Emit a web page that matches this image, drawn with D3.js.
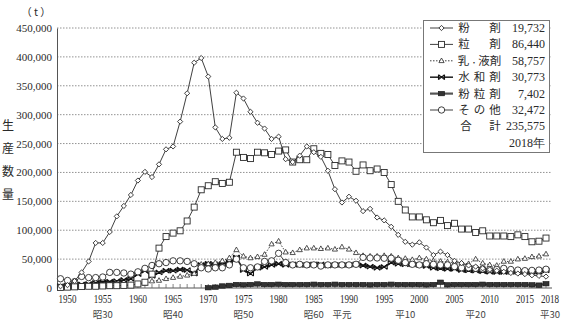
<!DOCTYPE html>
<html>
<head>
<meta charset="utf-8">
<script src="https://cdn.jsdelivr.net/npm/d3@7"></script>
<style>
  html, body { margin: 0; padding: 0; background: #fff; }
  svg { display: block; }
  .serif { font-family: "Liberation Serif", "DejaVu Serif", serif; }
  .cjk { font-family: "Noto Sans CJK JP", sans-serif; }
</style>
</head>
<body>
<svg id="chart" width="568" height="332"></svg>
<script>
// Years covered by the series
const years = d3.range(1949, 2019);

// Production quantity (t) per formulation type, 1949–2018
const konazai = [3000, 5000, 12000, 27000, 46000, 78000, 78000, 97000, 124000, 142000,
  161000, 186000, 201000, 192000, 214000, 240000, 245000, 288000, 337000, 390000,
  398000, 366000, 278000, 258000, 260000, 338000, 328000, 305000, 286000, 276000,
  258000, 262000, 223000, 218000, 229000, 245000, 235000, 227000, 203000, 171000,
  148000, 158000, 151000, 133000, 137000, 122000, 117000, 106000, 92000, 80000,
  75000, 79000, 70000, 57000, 63000, 57000, 47000, 43000, 39000, 37000,
  34000, 32000, 30000, 28000, 26000, 25000, 24000, 22000, 21000, 19732];

const ryuzai = [1000, 1500, 2000, 2500, 3000, 3000, 3500, 4000, 4000, 4500,
  5000, 7000, 10000, 24000, 69000, 89000, 95000, 99000, 116000, 140000,
  170000, 177000, 184000, 181000, 183000, 235000, 226000, 224000, 235000, 234000,
  231000, 237000, 239000, 218000, 222000, 222000, 241000, 233000, 231000, 212000,
  220000, 218000, 202000, 213000, 203000, 206000, 200000, 179000, 150000, 135000,
  123000, 123000, 118000, 113000, 117000, 108000, 112000, 102000, 102000, 96000,
  99000, 90000, 90000, 90000, 89000, 92000, 89000, 80000, 81000, 86440];

const nyuEkizai = [1000, 1500, 2000, 2500, 3000, 3000, 3500, 4000, 4000, 5000,
  5000, 6000, 8000, 12000, 13000, 16000, 18000, 20000, 22000, 25000,
  41000, 42000, 44000, 47000, 52000, 66000, 55000, 52000, 54000, 58000,
  76000, 81000, 62000, 61000, 66000, 69000, 69000, 68000, 69000, 67000,
  71000, 67000, 61000, 56000, 55000, 55000, 56000, 55000, 52000, 51000,
  49000, 52000, 50000, 47000, 46000, 45000, 44000, 43000, 42000, 50000,
  43000, 40000, 39000, 46000, 46000, 50000, 51000, 54000, 55000, 58757];

const suiwazai = [3000, 4000, 5000, 6000, 7000, 9000, 10000, 11000, 12000, 14000,
  16000, 24000, 30000, 21000, 27000, 30000, 30000, 32000, 31000, 25000,
  40000, 42000, 40000, 41000, 44000, 53000, 31000, 25000, 35000, 36500,
  40000, 42000, 40000, 41000, 40000, 40000, 41000, 41000, 39000, 40000,
  40000, 40000, 41000, 39000, 37000, 35000, 36500, 44000, 42000, 41000,
  41000, 40000, 38000, 35000, 34000, 33000, 33000, 31000, 30500, 30000,
  29000, 28000, 27500, 27500, 28000, 28000, 28000, 28000, 28000, 30773];

const funryuzai = [null, null, null, null, null, null, null, null, null, null,
  null, null, null, null, null, null, null, null, null, null,
  null, 500, 1500, 3500, 4500, 6000, 5500, 6000, 7000, 6000,
  6000, 6500, 6000, 6000, 6000, 6000, 6500, 6000, 6000, 6500,
  6000, 6000, 6000, 6000, 5500, 6000, 6000, 6500, 6000, 6000,
  6000, 6000, 5500, 6000, 10000, 5500, 6000, 6000, 6000, 6000,
  6500, 6000, 6000, 6000, 6000, 6000, 6000, 5500, 5000, 7402];

const sonota = [16000, 13000, 11000, 20000, 18000, 18000, 19000, 27000, 27000, 26000,
  24000, 28000, 34000, 39000, 42000, 44000, 47000, 47000, 46000, 42000,
  35000, 33000, 35000, 35000, 40000, 50000, 35000, 35000, 36500, 46000,
  47000, 60000, 44000, 40000, 41000, 40000, 40000, 38000, 40000, 40000,
  40000, 40000, 41000, 53000, 52000, 52000, 51500, 51500, 48000, 44000,
  41000, 40000, 42000, 41000, 40000, 40000, 37000, 35000, 35000, 34000,
  33000, 32000, 32000, 34000, 32000, 31000, 30000, 30500, 31000, 32472];

// Legend labels: each glyph with its horizontal position inside the name column
const seriesNames = [
  [["粉", 464], ["剤", 495]],
  [["粒", 464], ["剤", 495]],
  [["乳", 463.5], ["・", 474], ["液", 484], ["剤", 495.5]],
  [["水", 464], ["和", 479.5], ["剤", 495]],
  [["粉", 464], ["粒", 479.5], ["剤", 495]],
  [["そ", 464], ["の", 479.5], ["他", 495]]
];
const legendValues = ["19,732", "86,440", "58,757", "30,773", "7,402", "32,472"];
const totalLabel = [["合", 466], ["計", 495]];
const totalValue = "235,575";
const legendYear = "2018年";

// Axis labels
const yTicks = d3.range(0, 450001, 50000);
const xTickYears = [1950, 1955, 1960, 1965, 1970, 1975, 1980, 1985, 1990, 1995, 2000, 2005, 2010, 2015, 2018];
const eraLabels = [[1955, "昭30"], [1965, "昭40"], [1975, "昭50"], [1985, "昭60"],
  [1989, "平元"], [1998, "平10"], [2008, "平20"], [2018, "平30"]];
const yUnit = "（ t ）";
const yTitle = ["生", "産", "数", "量"];

const svg = d3.select("#chart");
const ink = "#2a2a2a";

const x = d3.scaleLinear().domain([1949, 2018]).range([60.5, 546]);
const y = d3.scaleLinear().domain([0, 450000]).range([288, 28]);
const plotLeft = 57, plotRight = 552;

// Dotted horizontal gridlines
svg.append("g").selectAll("line").data(yTicks.filter(d => d > 0)).join("line")
  .attr("x1", plotLeft).attr("x2", plotRight)
  .attr("y1", d => y(d)).attr("y2", d => y(d))
  .attr("stroke", "#777").attr("stroke-width", 0.8).attr("stroke-dasharray", "1.5,1.5");

// Y axis with comma-formatted values
const yAxis = d3.axisLeft(y).tickValues(yTicks).tickSize(0).tickPadding(5)
  .tickFormat(d3.format(","));
const gy = svg.append("g").attr("transform", `translate(${plotLeft},0)`).call(yAxis);
gy.select(".domain").attr("stroke", "#555").attr("stroke-width", 1);
gy.selectAll("text").attr("font-size", 11).attr("fill", ink)
  .attr("font-family", "Liberation Serif, serif");

// X axis: baseline with small inward yearly ticks
svg.append("line").attr("x1", plotLeft).attr("x2", plotRight)
  .attr("y1", y(0)).attr("y2", y(0)).attr("stroke", "#555").attr("stroke-width", 1);
svg.append("g").selectAll("line").data(years).join("line")
  .attr("x1", d => x(d)).attr("x2", d => x(d))
  .attr("y1", y(0)).attr("y2", y(0) - 4).attr("stroke", "#666").attr("stroke-width", 0.8);

svg.append("g").selectAll("text").data(xTickYears).join("text")
  .attr("class", "serif").attr("x", d => x(d) + (d === 2018 ? 4 : 0)).attr("y", 302.5)
  .attr("text-anchor", "middle").attr("font-size", 12).attr("fill", ink)
  .attr("textLength", 18).attr("lengthAdjust", "spacingAndGlyphs")
  .text(d => d);

svg.append("g").selectAll("text").data(eraLabels).join("text")
  .attr("class", "cjk").attr("x", d => x(d[0]) + (d[0] === 2018 ? 4 : 0)).attr("y", 318)
  .attr("text-anchor", "middle").attr("font-size", 9.5).attr("fill", "#444")
  .text(d => d[1]);

// Unit and vertical title
svg.append("text").attr("class", "cjk").attr("x", 36).attr("y", 16)
  .attr("text-anchor", "middle").attr("font-size", 10.5).attr("fill", ink).text(yUnit);
svg.append("g").selectAll("text").data(yTitle).join("text")
  .attr("class", "cjk").attr("x", 8).attr("y", (d, i) => 130 + i * 23)
  .attr("text-anchor", "middle").attr("font-size", 12).attr("fill", ink).text(d => d);

// Marker drawers
const markers = {
  diamond: (g, cx, cy) => g.append("path")
    .attr("d", `M${cx},${cy - 2.6}L${cx + 2.6},${cy}L${cx},${cy + 2.6}L${cx - 2.6},${cy}Z`)
    .attr("fill", "#fff").attr("stroke", ink).attr("stroke-width", 0.9),
  square: (g, cx, cy) => g.append("rect")
    .attr("x", cx - 3).attr("y", cy - 3).attr("width", 6).attr("height", 6)
    .attr("fill", "#fff").attr("stroke", ink).attr("stroke-width", 0.9),
  triangle: (g, cx, cy) => g.append("path")
    .attr("d", `M${cx},${cy - 2.8}L${cx + 2.6},${cy + 1.8}L${cx - 2.6},${cy + 1.8}Z`)
    .attr("fill", "#fff").attr("stroke", ink).attr("stroke-width", 0.8),
  cross: (g, cx, cy) => g.append("path")
    .attr("d", `M${cx - 3},${cy - 2.5}L${cx + 3},${cy + 2.5}M${cx - 3},${cy + 2.5}L${cx + 3},${cy - 2.5}M${cx - 3},${cy - 2.5}L${cx - 3},${cy + 2.5}M${cx + 3},${cy - 2.5}L${cx + 3},${cy + 2.5}`)
    .attr("fill", "none").attr("stroke", "#111").attr("stroke-width", 1.1),
  boxfill: (g, cx, cy) => g.append("rect")
    .attr("x", cx - 3).attr("y", cy - 2.2).attr("width", 6).attr("height", 4.4)
    .attr("fill", "#333").attr("stroke", "#111").attr("stroke-width", 0.6),
  circle: (g, cx, cy) => g.append("circle")
    .attr("cx", cx).attr("cy", cy).attr("r", 3.2)
    .attr("fill", "#fff").attr("stroke", ink).attr("stroke-width", 0.9)
};

const series = [
  { values: konazai, marker: "diamond", width: 0.9, dash: null },
  { values: ryuzai, marker: "square", width: 0.9, dash: null },
  { values: nyuEkizai, marker: "triangle", width: 0.9, dash: "1.5,1.5" },
  { values: suiwazai, marker: "cross", width: 1.6, dash: null },
  { values: funryuzai, marker: "boxfill", width: 2.2, dash: null },
  { values: sonota, marker: "circle", width: 0.9, dash: null }
];

const line = d3.line().defined(d => d.v != null).x(d => x(d.yr)).y(d => y(d.v));

// Draw order: background series first, the tall dust series on top
const drawOrder = [4, 3, 2, 5, 1, 0];
drawOrder.forEach(i => {
  const s = series[i];
  const pts = years.map((yr, k) => ({ yr, v: s.values[k] }));
  const g = svg.append("g");
  g.append("path").datum(pts).attr("d", line)
    .attr("fill", "none").attr("stroke", i === 4 ? "#555" : ink)
    .attr("stroke-width", s.width)
    .attr("stroke-dasharray", s.dash);
  pts.filter(p => p.v != null).forEach(p => markers[s.marker](g, x(p.yr), y(p.v)));
});

// Legend
const lg = svg.append("g");
lg.append("rect").attr("x", 423.5).attr("y", 20.5).attr("width", 126).attr("height", 132)
  .attr("fill", "#fff").attr("stroke", "#777").attr("stroke-width", 1);
const rowY = i => 32 + i * 16.4;
const addGlyphs = (glyphs, row) => glyphs.forEach(([ch, gx]) => {
  lg.append("text").attr("class", "cjk").attr("x", gx).attr("y", rowY(row))
    .attr("text-anchor", "middle").attr("font-size", ch === "・" ? 7 : 11.5)
    .attr("fill", ink).text(ch);
});
series.forEach((s, i) => {
  const cy = rowY(i) - 4;
  lg.append("line").attr("x1", 430).attr("x2", 453).attr("y1", cy).attr("y2", cy)
    .attr("stroke", i === 4 ? "#555" : ink).attr("stroke-width", s.width)
    .attr("stroke-dasharray", s.dash);
  markers[s.marker](lg, 441.5, cy);
  addGlyphs(seriesNames[i], i);
  lg.append("text").attr("class", "serif").attr("x", 545).attr("y", rowY(i))
    .attr("text-anchor", "end").attr("font-size", 12).attr("fill", ink).text(legendValues[i]);
});
addGlyphs(totalLabel, 6);
lg.append("text").attr("class", "serif").attr("x", 545).attr("y", rowY(6))
  .attr("text-anchor", "end").attr("font-size", 12).attr("fill", ink).text(totalValue);
lg.append("text").attr("class", "serif").attr("x", 545).attr("y", rowY(7))
  .attr("text-anchor", "end").attr("font-size", 12).attr("fill", ink).text(legendYear);
</script>
</body>
</html>
